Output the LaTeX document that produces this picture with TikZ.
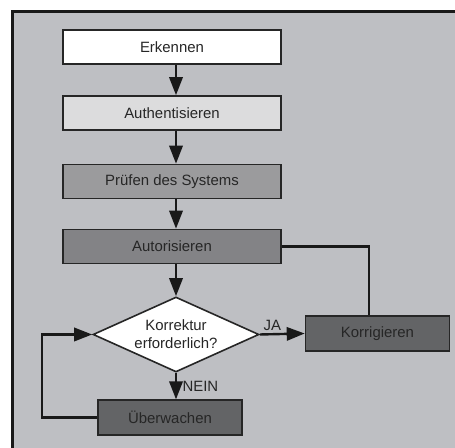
\documentclass[tikz,border=0pt]{standalone}
\usepackage{fontspec}
\setmainfont{Liberation Sans}
\usetikzlibrary{shapes.geometric,arrows.meta}
\definecolor{bggray}{RGB}{190,191,195}
\definecolor{authgray}{RGB}{220,220,221}
\definecolor{pruefgray}{RGB}{155,155,157}
\definecolor{autgray}{RGB}{131,131,134}
\definecolor{korgray}{RGB}{99,100,102}

\begin{document}
\begin{tikzpicture}[x=0.75pt, y=-0.75pt,
    every node/.style={font=\fontsize{11.2}{13.5}\selectfont, text=black!85},
    box/.style={draw=black!85, line width=1.2pt, minimum width=163.5pt, minimum height=25.5pt, inner sep=0pt},
    smallbox/.style={box, minimum width=108pt, minimum height=26pt},
    decision/.style={diamond, draw=black!85, line width=1.2pt, fill=white, align=center, inner sep=0pt, aspect=2.2, minimum width=124.5pt, minimum height=56.25pt},
    conn/.style={line width=1.8pt, draw=black!90},
    flow/.style={conn, -{Triangle[length=13.5pt,width=10pt]}}]
        \clip (0,0) rectangle (455,448);
        \draw[line width=1.9pt, draw=black!90, fill=bggray] (12.5,11.5) rectangle (470,470);

        \node[box, fill=white] (erk) at (172,47) {Erkennen};
        \node[box, fill=authgray] (auth) at (172,113) {Authentisieren};
        \node[box, fill=pruefgray] (pruef) at (172,181.5) {Prüfen des Systems};
        \node[box, fill=autgray] (aut) at (172,246.5) {Autorisieren};
        \node[decision] (korr) at (176,334.5) {Korrektur\\erforderlich?};
        \node[smallbox, fill=korgray] (korrig) at (377.5,333.5) {Korrigieren};
        \node[smallbox, fill=korgray] (ueber) at (170,417.5) {Überwachen};
        \coordinate (bend) at (369,246.5);

        \draw[flow] (erk.south -| korr) -- (auth.north -| korr);
        \draw[flow] (auth.south -| korr) -- (pruef.north -| korr);
        \draw[flow] (pruef.south -| korr) -- (aut.north -| korr);
        \draw[flow] (aut.south -| korr) -- (korr.north);
        \draw[flow] (korr.east) -- (korrig.west) node[pos=0, anchor=south west, inner sep=2pt] {JA};
        \draw[flow] (korr.south) -- (ueber.north -| korr) node[midway, right, inner sep=4pt] {NEIN};
        \draw[flow] (ueber.west) -- ++(-55,0) |- (korr.west);
        \draw[conn] (aut.east) -- (bend) -- (bend |- korrig.north);
\end{tikzpicture}
\end{document}
